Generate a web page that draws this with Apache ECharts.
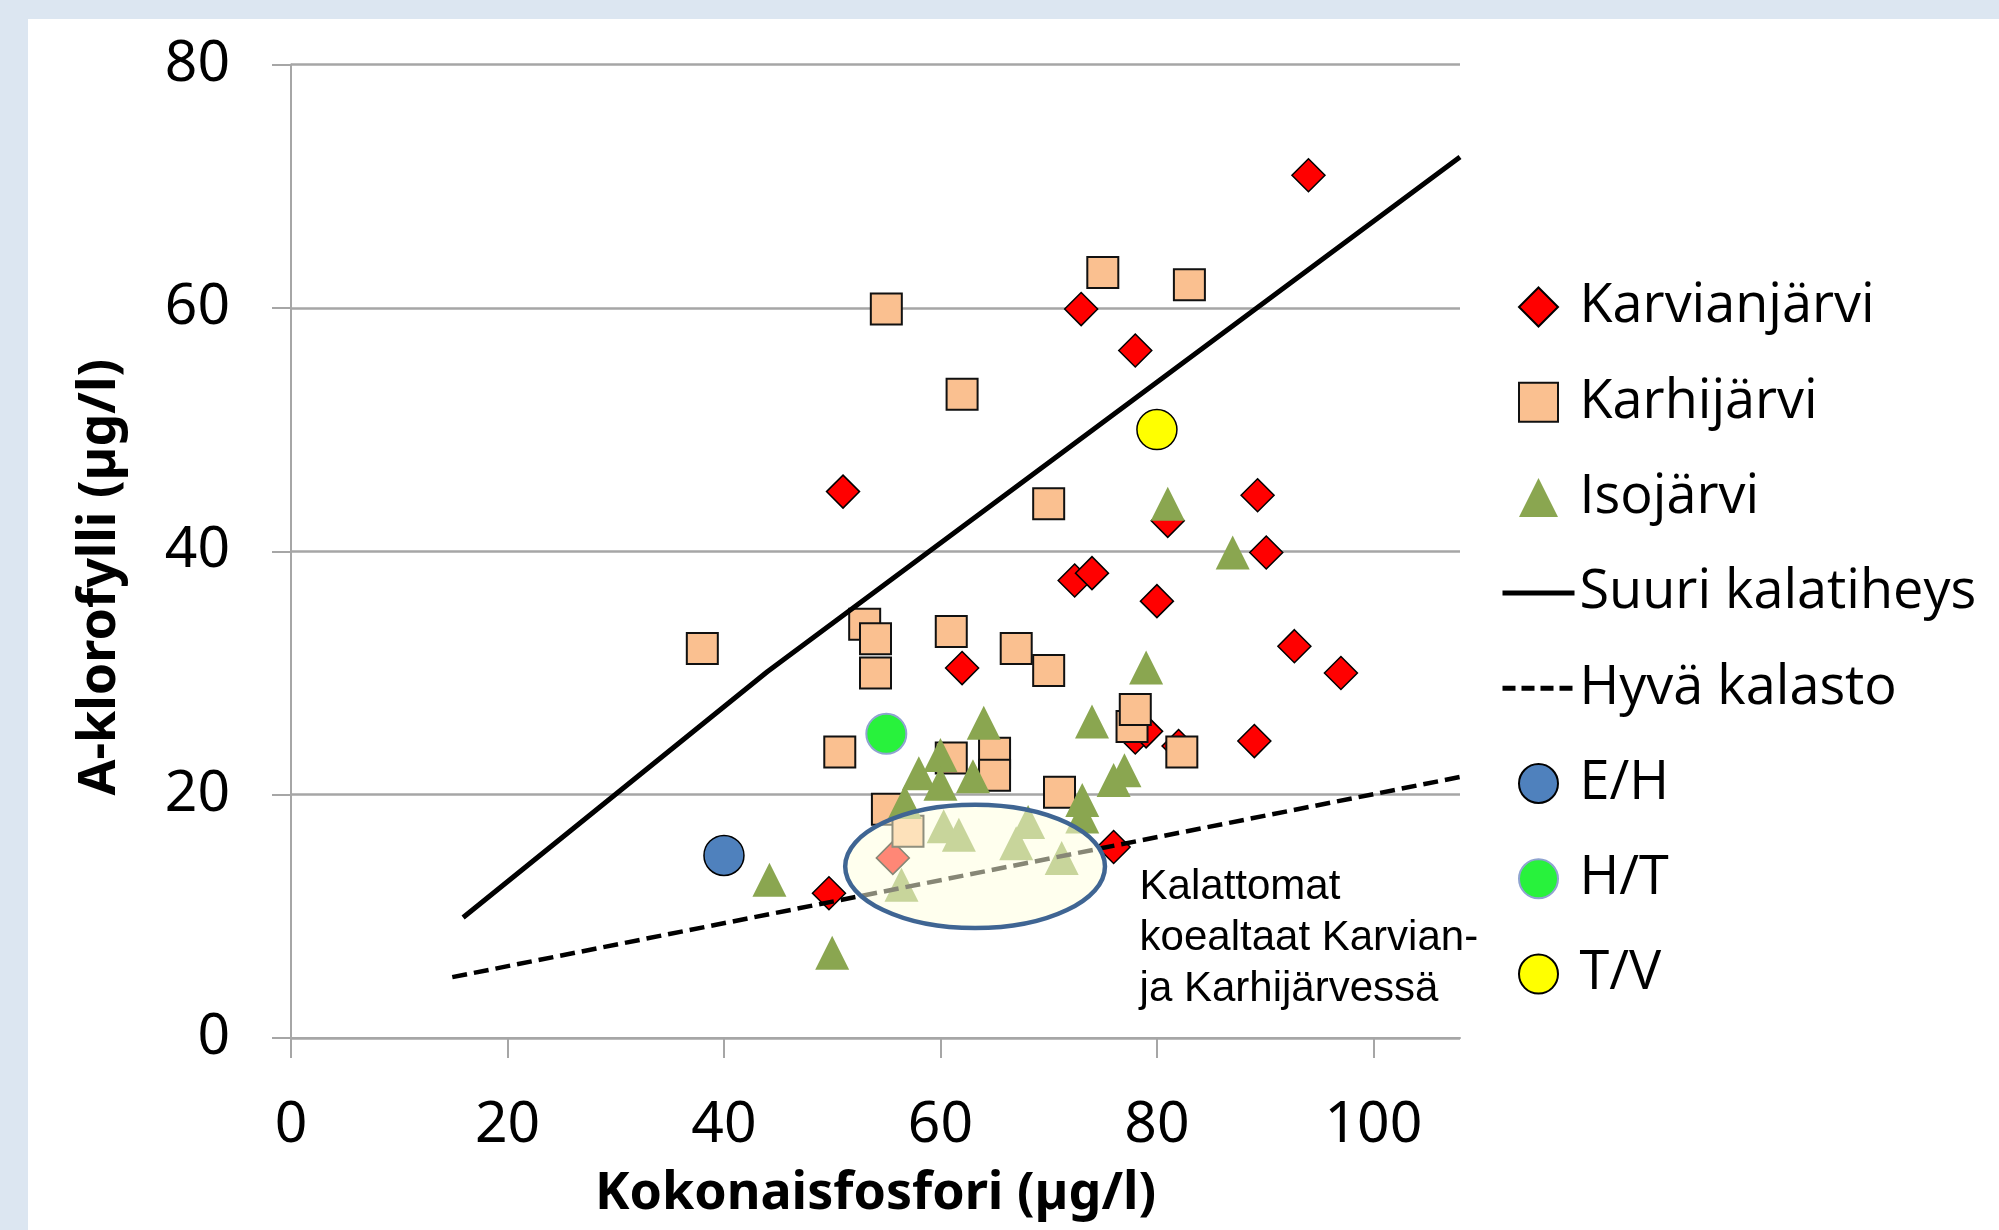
<!DOCTYPE html>
<html>
<head>
<meta charset="utf-8">
<script src="https://cdn.jsdelivr.net/npm/echarts@6/dist/echarts.min.js"></script>
<style>
  html, body { margin: 0; padding: 0; background: #dce6f1; }
  #panel { position: absolute; left: 28px; top: 19px; right: 0; bottom: 0; background: #ffffff; }
  #chart { position: absolute; left: 0; top: 0; width: 1999px; height: 1230px; }
</style>
</head>
<body>
<div id="panel"></div>
<div id="chart"></div>
<script>
// ---- data (x = Kokonaisfosfori µg/l, y = A-klorofylli µg/l) ----
const karvianjarvi = [[94.0,70.9],[73.0,59.9],[78.0,56.5],[51.0,44.9],[89.3,44.6],[81.0,42.5],[90.1,39.9],[72.4,37.6],[74.0,38.2],[80.0,35.9],[92.7,32.2],[97.0,30.0],[62.0,30.4],[78.0,24.7],[79.0,25.2],[82.0,24.0],[89.0,24.4],[76.0,15.7],[49.7,11.9],[55.6,14.8]];
const karhijarvi = [[75.0,62.9],[83.0,61.9],[55.0,59.9],[62.0,52.9],[70.0,43.9],[38.0,32.0],[53.0,34.0],[54.0,32.8],[54.0,30.0],[61.0,33.4],[67.0,32.0],[70.0,30.2],[77.7,25.6],[78.0,27.0],[82.3,23.5],[50.7,23.5],[61.0,23.0],[65.0,23.4],[65.0,21.6],[55.1,18.8],[71.0,20.2],[57.0,17.0]];
const isojarvi = [[81.0,43.9],[87.0,39.9],[79.0,30.45],[64.0,25.9],[74.0,26.0],[60.0,23.25],[58.0,21.75],[63.0,21.5],[60.0,20.9],[77.0,22.0],[76.0,21.2],[56.7,19.4],[73.1,19.55],[73.1,18.2],[60.3,17.4],[61.7,16.7],[68.1,17.75],[67.0,16.0],[71.2,14.8],[56.4,12.6],[44.2,13.0],[50.0,7.0]];
const suuriKalatiheys = [[15.9,9.9],[44.0,30.1],[108.0,72.4]];
const hyvaKalasto = [[14.9,5.0],[108.0,21.45]];
const eh = [[40.0,15.0]];
const ht = [[55.0,25.0]];
const tv = [[80.0,50.0]];
// annotation: ellipse around fishless test basins, and its note
const ellipseCenter = [63.2, 14.1];
const ellipseRadius = [12.0, 5.07];
const notePos = [78.4, 8.2];
const noteText = 'Kalattomat\nkoealtaat Karvian-\nja Karhijärvessä';
const xTicks = [0, 20, 40, 60, 80, 100];
const seriesNames = ['Karvianjärvi','Karhijärvi','Isojärvi','Suuri kalatiheys','Hyvä kalasto','E/H','H/T','T/V'];

const chart = echarts.init(document.getElementById('chart'), null, {renderer: 'canvas'});
const grey = '#a6a6a6';
const legendLineStyles = {
  'Suuri kalatiheys': { color: '#000', width: 5, type: 'solid' },
  'Hyvä kalasto': { color: '#000', width: 5, type: [13, 6] }
};
const legendIcons = {
  'Karvianjärvi': 'path://M0,-1L1,0L0,1L-1,0Z',
  'Karhijärvi': 'path://M0,0H1V1H0Z',
  'Isojärvi': 'path://M0,-1L1,1L-1,1Z'
};
const option = {
  animation: false,
  backgroundColor: 'transparent',
  grid: { left: 291, top: 64.5, width: 1169, height: 973.5 },
  xAxis: {
    type: 'value', min: 0, max: 108, interval: 20,
    name: 'Kokonaisfosfori (µg/l)', nameLocation: 'middle', nameGap: 130,
    nameTextStyle: { fontFamily: 'Noto Sans', fontWeight: 'bold', fontSize: 52, color: '#000', lineHeight: 52 },
    axisLine: { show: true, onZero: false, lineStyle: { color: grey, width: 2 } },
    axisTick: { show: true, inside: false, length: 20, lineStyle: { color: grey, width: 2 }, customValues: xTicks },
    axisLabel: { fontFamily: 'Noto Sans', fontSize: 57, color: '#000', margin: 59, customValues: xTicks },
    splitLine: { show: false }
  },
  yAxis: {
    type: 'value', min: 0, max: 80, interval: 20,
    name: 'A-klorofylli (µg/l)', nameLocation: 'middle', nameGap: 165,
    nameTextStyle: { fontFamily: 'Noto Sans', fontWeight: 'bold', fontSize: 52, color: '#000', lineHeight: 52, padding: [0, 52, 0, 0] },
    axisLine: { show: true, lineStyle: { color: grey, width: 2 } },
    axisTick: { show: true, inside: false, length: 19, lineStyle: { color: grey, width: 2 } },
    axisLabel: { fontFamily: 'Noto Sans', fontSize: 57, color: '#000', margin: 61 },
    splitLine: { show: true, lineStyle: { color: grey, width: 2.5 } }
  },
  legend: {
    orient: 'vertical', left: 1495, top: 275,
    itemWidth: 72, itemHeight: 39, itemGap: 41.3,
    symbolKeepAspect: true,
    selectedMode: false,
    data: seriesNames.map(function (n) {
      if (legendLineStyles[n]) return { name: n, itemStyle: { opacity: 0 }, lineStyle: legendLineStyles[n] };
      if (legendIcons[n]) return { name: n, icon: legendIcons[n] };
      return { name: n };
    }),
    textStyle: { fontFamily: 'Open Sans', fontSize: 54, color: '#000', lineHeight: 54 }
  },
  series: [
    { name: 'Karvianjärvi', type: 'scatter', data: karvianjarvi, symbol: 'diamond', symbolSize: 33, symbolKeepAspect: true,
      itemStyle: { color: '#ff0000', borderColor: '#000', borderWidth: 1.5, opacity: 1 } },
    { name: 'Karhijärvi', type: 'scatter', data: karhijarvi, symbol: 'rect', symbolSize: 31, symbolKeepAspect: true,
      itemStyle: { color: '#fac090', borderColor: '#111', borderWidth: 2, opacity: 1 } },
    { name: 'Isojärvi', type: 'scatter', data: isojarvi, symbol: 'triangle', symbolSize: 34, symbolKeepAspect: true,
      itemStyle: { color: '#8aa650', opacity: 1 } },
    { name: 'Suuri kalatiheys', type: 'line', data: suuriKalatiheys, symbol: 'none', z: 3,
      lineStyle: { color: '#000', width: 5 }, itemStyle: { color: '#000' } },
    { name: 'Hyvä kalasto', type: 'line', data: hyvaKalasto, symbol: 'none', z: 3,
      lineStyle: { color: '#000', width: 4.5, type: [15, 7] }, itemStyle: { color: '#000' } },
    { name: 'E/H', type: 'scatter', data: eh, symbol: 'circle', symbolSize: 40, symbolKeepAspect: true,
      itemStyle: { color: '#4f81bd', borderColor: '#000', borderWidth: 1.5, opacity: 1 } },
    { name: 'H/T', type: 'scatter', data: ht, symbol: 'circle', symbolSize: 40, symbolKeepAspect: true,
      itemStyle: { color: '#28f23c', borderColor: '#8fa3d0', borderWidth: 2, opacity: 1 } },
    { name: 'T/V', type: 'scatter', data: tv, symbol: 'circle', symbolSize: 40, symbolKeepAspect: true,
      itemStyle: { color: '#ffff00', borderColor: '#000', borderWidth: 1.5, opacity: 1 } },
    { name: 'ellipse', type: 'custom', z: 6, silent: true,
      data: [ellipseCenter],
      renderItem: function (params, api) {
        const c = api.coord([api.value(0), api.value(1)]);
        const s = api.size(ellipseRadius, [api.value(0), api.value(1)]);
        return { type: 'ellipse', shape: { cx: c[0], cy: c[1], rx: s[0], ry: s[1] },
          style: { fill: 'rgba(255,255,222,0.53)', stroke: '#3f6593', lineWidth: 4.5 } };
      } },
    { name: 'note', type: 'custom', z: 7, silent: true,
      data: [notePos],
      renderItem: function (params, api) {
        const c = api.coord([api.value(0), api.value(1)]);
        return { type: 'text', x: c[0], y: c[1],
          style: { text: noteText, fontFamily: 'Liberation Sans', fontSize: 42, lineHeight: 51,
                   fill: '#000', align: 'left', verticalAlign: 'middle' } };
      } }
  ]
};
chart.setOption(option);
</script>
</body>
</html>
